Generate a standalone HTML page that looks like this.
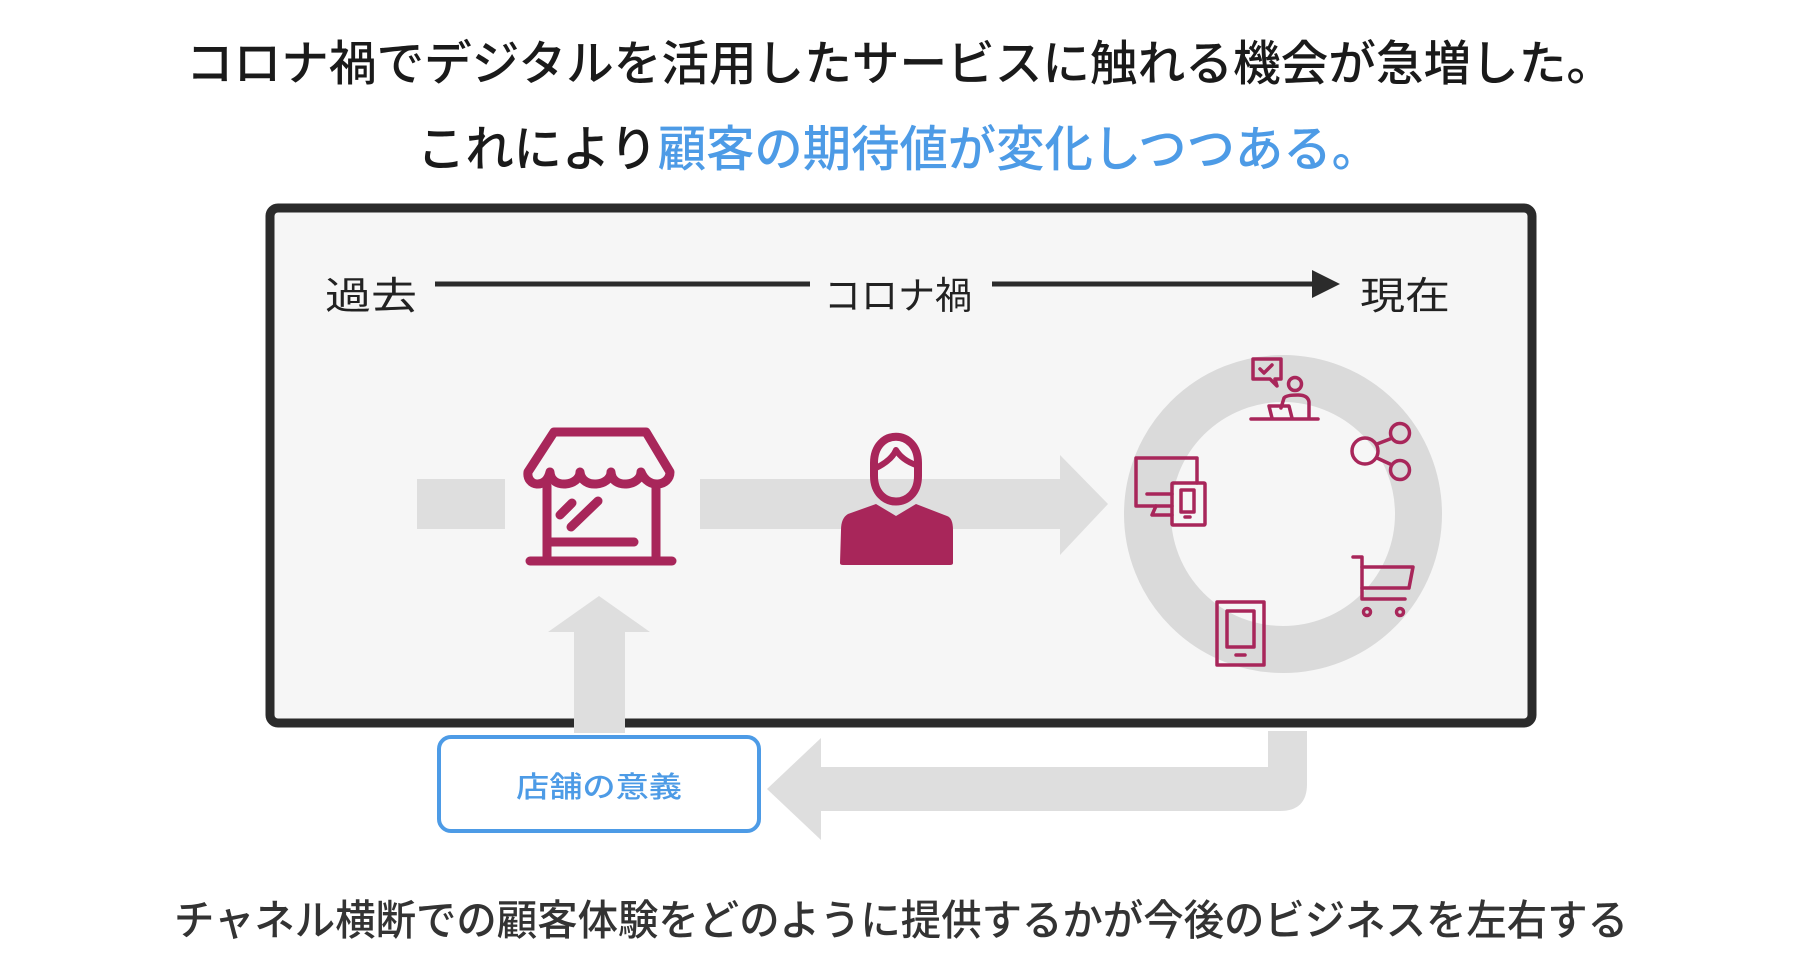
<!DOCTYPE html>
<html><head><meta charset="utf-8"><style>
html,body{margin:0;padding:0;background:#fff;}
svg{display:block}
text{font-family:"Liberation Sans","Noto Sans CJK JP",sans-serif;}
</style></head><body>
<svg width="1804" height="964" viewBox="0 0 1804 964" xmlns="http://www.w3.org/2000/svg">
<rect width="1804" height="964" fill="#fff"/>
<g transform="translate(-2,-2)">
<text x="902" y="82" font-size="48" font-weight="500" fill="#1a1a1a" text-anchor="middle" textLength="1428" lengthAdjust="spacingAndGlyphs">コロナ禍でデジタルを活用したサービスに触れる機会が急増した。</text>
<text x="419" y="168" font-size="49" font-weight="500" fill="#1a1a1a" textLength="963" lengthAdjust="spacingAndGlyphs">これにより<tspan fill="#4d9be6">顧客の期待値が変化しつつある。</tspan></text>

<rect x="272" y="210" width="1262" height="515" rx="8" fill="#f6f6f6" stroke="#2b2b2b" stroke-width="9"/>

<text x="327" y="311" font-size="38" fill="#222" textLength="92" lengthAdjust="spacingAndGlyphs">過去</text>
<line x1="437" y1="286" x2="812" y2="286" stroke="#2b2b2b" stroke-width="5"/>
<text x="826" y="311" font-size="38" fill="#222" textLength="148" lengthAdjust="spacingAndGlyphs">コロナ禍</text>
<line x1="994" y1="286" x2="1318" y2="286" stroke="#2b2b2b" stroke-width="5"/>
<polygon points="1314,272 1342,286 1314,300" fill="#2b2b2b"/>
<text x="1362" y="311" font-size="38" fill="#222" textLength="90" lengthAdjust="spacingAndGlyphs">現在</text>

<rect x="419" y="481" width="88" height="50" fill="#dedede"/>
<rect x="702" y="481" width="362" height="50" fill="#dedede"/>
<polygon points="1062,457 1110,506 1062,557" fill="#dedede"/>

<circle cx="1285" cy="516" r="135.5" fill="none" stroke="#dadada" stroke-width="47"/>

<g fill="none" stroke="#a8265a" stroke-width="9" stroke-linecap="round" stroke-linejoin="round">
<path d="M556,434 L648,434 L672,474 C672,488 650,492 643,474 C643,488 614,492 613,474 C613,488 584,492 582,474 C582,488 553,492 552,474 C548,492 528,488 530,474 Z"/>
<line x1="549" y1="488" x2="549" y2="562"/>
<line x1="658" y1="488" x2="658" y2="562"/>
<line x1="532" y1="563" x2="674" y2="563"/>
<line x1="552" y1="544" x2="636" y2="544"/>
<line x1="562" y1="517" x2="574" y2="505"/>
<line x1="573" y1="529" x2="600" y2="503"/>
</g>

<g fill="#a8265a">
<path d="M876,465 C876,430 920,430 920,465 L920,478 C920,512 876,512 876,478 Z" fill="none" stroke="#a8265a" stroke-width="8"/>
<path d="M878,470 Q894,462 898,452 M898,452 Q904,462 918,467" fill="none" stroke="#a8265a" stroke-width="6" stroke-linecap="round"/>
<path d="M878,506 L898,518 L918,506 L949,518 Q955,520 955,532 L955,565 Q955,567 952,567 L845,567 Q842,567 842,565 L843,532 Q843,520 850,516 Z"/>
</g>

<g fill="none" stroke="#a8265a" stroke-width="3.5" stroke-linecap="round" stroke-linejoin="round">
<path d="M1255,361 L1283,361 L1283,381 L1277,381 L1279,388 L1272,381 L1255,381 Z"/>
<path d="M1262,371 L1266,375 L1274,367"/>
<circle cx="1297" cy="386" r="6.5"/>
<path d="M1283,410 L1286,400 Q1288,397 1300,397 Q1310,397 1311,404 L1311,420"/>
<path d="M1271,408 L1291,408 L1294,420 M1271,408 L1274,420"/>
<line x1="1253" y1="421" x2="1320" y2="421"/>
<circle cx="1367" cy="453" r="13"/>
<circle cx="1402" cy="435" r="9.5"/>
<circle cx="1402" cy="472" r="9.5"/>
<line x1="1379" y1="446" x2="1392" y2="441"/>
<line x1="1379" y1="460" x2="1392" y2="466"/>
<path d="M1174,508 L1138,508 L1138,460 L1199,460 L1199,485"/>
<line x1="1149" y1="496" x2="1174" y2="496"/>
<path d="M1158,508 L1154,517 L1174,517"/>
<rect x="1174" y="485" width="33" height="42" rx="1"/>
<rect x="1183" y="492" width="13" height="22"/>
<line x1="1187" y1="519" x2="1192" y2="519"/>
<path d="M1355,559 L1364,559 L1364,601 L1407,601"/>
<path d="M1364,569 L1415,569 L1411,590 L1364,590"/>
<circle cx="1369" cy="614" r="3.5"/>
<circle cx="1402" cy="614" r="3.5"/>
<rect x="1219" y="604" width="47" height="63"/>
<rect x="1229" y="613" width="27" height="36"/>
<line x1="1238" y1="657" x2="1247" y2="657"/>
</g>

<rect x="576" y="632" width="51" height="103" fill="#dedede"/>
<polygon points="550,634 601,598 652,634" fill="#dedede"/>

<path d="M1270,733 L1309,733 L1309,786 Q1309,813 1282,813 L823,813 L823,769 L1270,769 Z" fill="#dedede"/>
<polygon points="823,740 769,791 823,842" fill="#dedede"/>

<rect x="441" y="739" width="320" height="94" rx="12" fill="#fff" stroke="#4d9be6" stroke-width="4"/>
<text x="601" y="799" font-size="29" font-weight="500" fill="#4d9be6" text-anchor="middle" textLength="166" lengthAdjust="spacingAndGlyphs">店舗の意義</text>

<text x="903" y="937" font-size="42" font-weight="500" fill="#333" text-anchor="middle" textLength="1454" lengthAdjust="spacingAndGlyphs">チャネル横断での顧客体験をどのように提供するかが今後のビジネスを左右する</text>
</g>
</svg>
</body></html>
